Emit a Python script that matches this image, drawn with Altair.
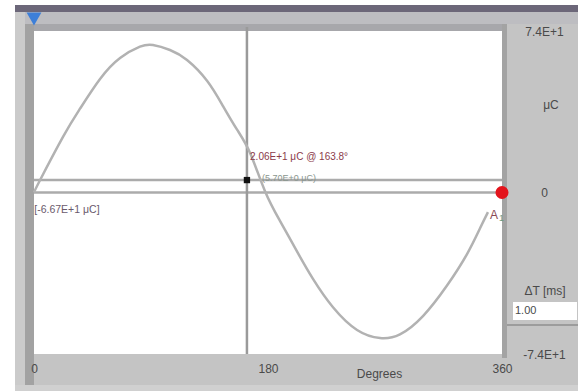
import altair as alt
import pandas as pd

# Sampled trace: phase in degrees and charge in microcoulombs
degrees = [0, 4.6, 22.3, 35.4, 50.8, 66.2, 81.5, 91.5, 104.6, 117.7, 133.1,
           145.4, 156.2, 166.2, 177.7, 189.2, 202.3, 214.6, 230.0, 248.5,
           266.2, 281.5, 299.2, 317.7, 333.1, 343.1, 349.2]
charge = [0.0, 5.6, 25.5, 38.4, 52.0, 61.6, 66.8, 67.6, 65.3, 60.7, 51.2,
          39.6, 28.8, 18.1, 0.6, -13.0, -27.0, -39.6, -52.6, -63.0,
          -66.7, -65.0, -56.6, -42.6, -28.2, -16.4, -9.0]

# Cursor positions and markers
cursor_deg = [163.8]
cursor_level = [5.7]
trigger_deg = [0]
offset_deg = [360]
offset_level = [0]

# Readout texts
note_deg = [166.2, 175.4, 0.2, 350.8]
note_val = [16.3, 6.6, -8.0, -10.3]
note_text = ["2.06E+1 \u03bcC @ 163.8\u00b0", "(5.70E+0 \u03bcC)", "[-6.67E+1 \u03bcC]", "A"]
note_color = ["#8b3a4a", "#8a968e", "#6a5a6c", "#8a4a55"]
note_size = [10, 9, 10.5, 12]

axis_ticks = [0, 180, 360]
level_ticks = [-74, 0, 74]

FONT = "Liberation Sans"
INK = "#4a4a4a"
W, H = 468, 323

trace = pd.DataFrame({"deg": degrees, "q": charge})
cursor = pd.DataFrame({"deg": cursor_deg, "q": cursor_level})
zero = pd.DataFrame({"q": offset_level, "deg": offset_deg})
trig = pd.DataFrame({"deg": trigger_deg})
notes = pd.DataFrame({"deg": note_deg, "q": note_val, "t": note_text,
                      "c": note_color, "s": note_size})

xs = alt.Scale(domain=[0, 360], nice=False, zero=False)
ys = alt.Scale(domain=[-74, 74], nice=False, zero=False)

x_axis = alt.Axis(values=axis_ticks, title="Degrees", grid=False, domain=False,
                  ticks=False, tickSize=0, labelPadding=9, labelFontSize=12,
                  labelColor=INK, labelFont=FONT, labelFlush=False, zindex=1,
                  titleX=345, titleY=19, titleBaseline="middle",
                  titleAlign="center", titleFontWeight="normal",
                  titleFontSize=12, titleColor=INK, titleFont=FONT)
y_axis = alt.Axis(orient="right", values=level_ticks, grid=False, domain=False,
                  ticks=False, tickSize=0, labelPadding=42, labelAlign="center",
                  labelBaseline="middle", labelFlush=False, title=None, zindex=1,
                  labelFontSize=12, labelColor=INK, labelFont=FONT,
                  labelExpr="datum.value > 0 ? '7.4E+1' : (datum.value < 0 ? '-7.4E+1' : '0')")

X = alt.X("deg:Q", scale=xs, axis=x_axis)
Y = alt.Y("q:Q", scale=ys, axis=y_axis)

one = alt.Data(values=[{}])


def frame(x0, y0, x1, y1, color):
    return alt.Chart(one).mark_rect(color=color).encode(
        x=alt.value(x0), x2=alt.value(x1), y=alt.value(y0), y2=alt.value(y1))


def label(x, y, text, size=12, align="center", color=INK):
    return alt.Chart(one).mark_text(text=text, font=FONT, fontSize=size,
                                    align=align, baseline="middle",
                                    color=color).encode(
        x=alt.value(x), y=alt.value(y))


# Window chrome around the scope view
chrome = [
    frame(-34, -31, -19, 360, "#ffffff"),
    frame(-34, -31, 544, -26, "#ffffff"),
    frame(-19, -26, 544, -19, "#6c6779"),
    frame(-19, -19, 544, -7, "#bdbdc1"),
    frame(-9, -7, 468, 0, "#a7a7ab"),
    frame(-19, -19, -9, 354, "#cbcbcb"),
    frame(-9, -7, 0, 354, "#a2a2a2"),
    frame(468, -7, 473, 327, "#a3a3a3"),
    frame(-19, 354, 544, 360, "#d0d0d0"),
    frame(473, 293, 544, 295, "#9c9c9c"),
    frame(479, 271, 543, 289, "#ffffff"),
    label(517, 74, "\u03bcC"),
    label(511, 260, "\u0394T [ms]"),
    label(481, 280, "1.00", size=11, align="left"),
]

hline_zero = alt.Chart(zero).mark_rule(color="#ababab", strokeWidth=2.5).encode(
    y=Y, x=alt.value(0), x2=alt.value(W))
hline_cursor = alt.Chart(cursor).mark_rule(color="#ababab", strokeWidth=2.5).encode(
    y=Y, x=alt.value(0), x2=alt.value(W))
vline_cursor = alt.Chart(cursor).mark_rule(color="#9a9a9a", strokeWidth=2.5).encode(
    x=X, y=alt.value(-4), y2=alt.value(H))

curve = alt.Chart(trace).mark_line(color="#b2b2b2", strokeWidth=2.5,
                                   interpolate="natural").encode(x=X, y=Y)

cursor_pt = alt.Chart(cursor).mark_square(color="#111111", size=40, opacity=1).encode(
    x=X, y=Y)

offset_pt = alt.Chart(zero).mark_circle(color="#e3141c", size=170, opacity=1).encode(
    x=X, y=Y)

trigger_pt = alt.Chart(trig).mark_point(shape="triangle-down", filled=True,
                                        color="#3d7fd8", size=220, opacity=1).encode(
    x=X, y=alt.value(-12))

note_marks = alt.Chart(notes).mark_text(font=FONT, align="left",
                                        baseline="middle").encode(
    x=X, y=Y, text="t:N", color=alt.Color("c:N", scale=None),
    size=alt.Size("s:Q", scale=None))

sub_mark = label(465, 187, "1", size=9, align="left", color="#6f9a80")

chart = alt.layer(
    *chrome, hline_zero, hline_cursor, vline_cursor, curve,
    cursor_pt, offset_pt, trigger_pt, note_marks, sub_mark
).properties(
    width=W, height=H, background="#c4c4c4",
    padding={"left": 34, "top": 31, "right": 76, "bottom": 37},
    autosize=alt.AutoSizeParams(type="none"),
).configure_view(fill="white", stroke=None)

chart.save("out.html", embed_options={"renderer": "svg", "actions": False})
